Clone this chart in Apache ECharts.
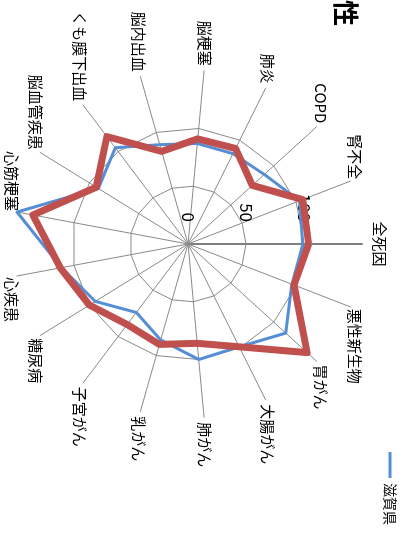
<!DOCTYPE html>
<html>
<head>
<meta charset="utf-8">
<script src="https://cdn.jsdelivr.net/npm/echarts@6/dist/echarts.min.js"></script>
<style>
  html, body { margin: 0; padding: 0; background: #fff; overflow: hidden; }
  /* chart is laid out landscape, then turned a quarter clockwise */
  #chart {
    position: absolute; left: 0; top: 0;
    width: 537px; height: 403px;
    transform-origin: 0 0;
    transform: translateX(403px) rotate(90deg);
  }
</style>
</head>
<body>
<div id="chart"></div>
<script>
const categories = ['全死因', '悪性新生物', '胃がん', '大腸がん', '肺がん', '乳がん', '子宮がん', '糖尿病',
  '心疾患', '心筋梗塞', '脳血管疾患', 'くも膜下出血', '脳内出血', '脳梗塞', '肺炎', 'COPD', '腎不全']
const shigaValues = [99, 96, 114, 99, 100, 86, 74, 94, 111, 150, 91, 104, 89, 87, 87, 89, 103]
const compareValues = [104, 98, 139, 99, 86, 90, 87, 100, 112, 136, 93, 116, 83, 91, 92, 75, 106]
const axisMax = 150

// radar runs counter-clockwise, the original runs clockwise from the top
const order = (arr) => [arr[0], ...arr.slice(1).reverse()]

const font = '"Noto Sans CJK JP", sans-serif'
const gridColor = '#8a8a8a'

const chart = echarts.init(document.getElementById('chart'))

const indicators = order(categories).map((name, i) => {
  const ind = { name, min: 0, max: axisMax, nameGap: 5, axisLabel: { show: false } }
  if (i === 0) {
    // first axis carries the scale labels and a heavier line
    ind.nameGap = 10
    ind.axisLabel = { show: true }
    ind.axisLine = { show: true, lineStyle: { color: '#7f7f7f', width: 2 } }
  }
  return ind
})

const option = {
  backgroundColor: '#fff',
  animation: false,
  title: {
    text: '女性',
    left: -26,
    top: 44,
    padding: 0,
    textStyle: { fontSize: 26, fontWeight: 'bold', color: '#000', fontFamily: font },
  },
  legend: {
    data: ['滋賀県'],
    left: 452,
    top: 6,
    padding: 0,
    icon: 'rect',
    itemWidth: 26,
    itemHeight: 3,
    textStyle: { fontSize: 14, color: '#000', fontFamily: font },
  },
  radar: {
    center: [244, 215],
    radius: 174,
    shape: 'polygon',
    splitNumber: 3,
    axisName: { color: '#000', fontSize: 15, fontFamily: font },
    axisLine: { show: true, lineStyle: { color: gridColor, width: 1 } },
    axisTick: { show: false },
    axisLabel: { color: '#000', fontSize: 17, margin: 22, fontFamily: font, showMaxLabel: false },
    splitLine: { lineStyle: { color: [gridColor, gridColor, gridColor, 'rgba(0,0,0,0)'], width: 1 } },
    splitArea: { show: false },
    indicator: indicators,
  },
  series: [
    {
      type: 'radar',
      symbol: 'none',
      data: [
        {
          name: '滋賀県',
          value: order(shigaValues),
          itemStyle: { color: '#558ed5' },
          lineStyle: { color: '#558ed5', width: 3 },
        },
        {
          name: '比較地域',
          value: order(compareValues),
          itemStyle: { color: '#c0504d' },
          lineStyle: { color: '#c0504d', width: 7 },
        },
      ],
    },
  ],
}

chart.setOption(option)
</script>
</body>
</html>
